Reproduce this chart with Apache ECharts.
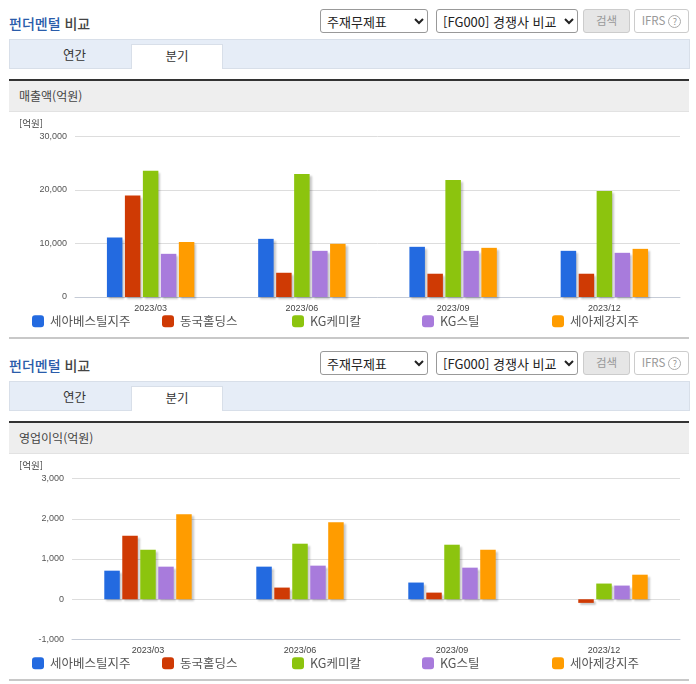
<!DOCTYPE html>
<html lang="ko">
<head>
    <meta charset="UTF-8">
    <title>펀더멘털 비교</title>
    <script src="https://cdn.jsdelivr.net/npm/echarts@6/dist/echarts.min.js"></script>
    <style>
        html, body { margin: 0; padding: 0; background: #fff; }
        body { width: 696px; height: 684px; position: relative; overflow: hidden;
            font-family: "Noto Sans CJK KR", "Liberation Sans", sans-serif; color: #333; }
        .panel { position: absolute; left: 0; width: 696px; height: 342px; }
        .head { position: absolute; left: 9px; top: 12px; font-size: 14px; line-height: 22px; font-weight: 500; color: #444; }
        .head b { color: #2a5caa; font-weight: 500; }
        select { position: absolute; top: 9px; height: 24px; font-size: 13px; padding: 0 0 0 2px; background: #fff;
            border: 1px solid #999; border-radius: 3px; color: #222; font-family: inherit; }
        .btn { position: absolute; top: 9px; height: 22px; line-height: 21px; text-align: center; font-size: 11.5px;
            color: #999; border: 1px solid #ccc; border-radius: 3px; }
        .btn i { display: inline-block; width: 11px; height: 11px; line-height: 11px; border: 1px solid #aaa; border-radius: 50%;
            font-style: normal; font-size: 9px; margin-left: 3px; vertical-align: 0; }
        .tabs { position: absolute; left: 9px; top: 39px; width: 679px; height: 28px; background: #e6edf7; border: 1px solid #d8dfe9; }
        .tab { position: absolute; top: 4px; height: 25px; line-height: 22px; text-align: center; font-size: 12.5px; color: #333; box-sizing: border-box; }
        .tab.on { background: #fff; border: 1px solid #d8dfe9; border-bottom: 0; }
        .band { position: absolute; left: 9px; top: 79px; width: 680px; height: 30px; background: #eee; border-top: 2px solid #333;
            border-bottom: 1px solid #e2e2e2; font-size: 12px; line-height: 30px; text-indent: 10px; color: #444; }
        .rule { position: absolute; left: 9px; top: 337px; width: 680px; height: 2px; background: #c8c8c8; }
        .chart { position: absolute; left: 0; top: 112px; width: 696px; height: 224px; }
    </style>
</head>
<body>
<div id="panels"></div>
<script type="application/javascript">
    const categories = ['2023/03', '2023/06', '2023/09', '2023/12'];
    const companies = ['세아베스틸지주', '동국홀딩스', 'KG케미칼', 'KG스틸', '세아제강지주'];
    const colors = ['#236ae0', '#cf3a04', '#8cc40e', '#a87bdc', '#ff9c00'];
    const legendLefts = [27, 157, 287, 417, 547];

    // 매출액(억원)
    const sales = [
        [11100, 10870, 9380, 8630],
        [18950, 4530, 4350, 4350],
        [23600, 22980, 21860, 19800],
        [8070, 8630, 8630, 8260],
        [10300, 9940, 9190, 9000]
    ];
    // 영업이익(억원)
    const profit = [
        [710, 810, 415, null],
        [1580, 290, 165, -90],
        [1230, 1380, 1355, 390],
        [810, 835, 785, 340],
        [2110, 1910, 1230, 610]
    ];

    function panelHtml(title, chartId, top) {
        return `<div class="panel" style="top:${top}px">
            <div class="head"><b>펀더멘털</b> 비교</div>
            <select style="left:320px;width:108px"><option>주재무제표</option></select>
            <select style="left:436px;width:142px"><option>[FG000] 경쟁사 비교</option></select>
            <div class="btn" style="left:583px;width:45px;background:#e6e6e6">검색</div>
            <div class="btn" style="left:634px;width:53px">IFRS<i>?</i></div>
            <div class="tabs">
                <div class="tab" style="left:0;width:129px">연간</div>
                <div class="tab on" style="left:121px;width:92px">분기</div>
            </div>
            <div class="band">${title}</div>
            <div class="chart" id="${chartId}"></div>
            <div class="rule"></div>
        </div>`;
    }

    document.getElementById('panels').innerHTML =
        panelHtml('매출액(억원)', 'chart1', 0) + panelHtml('영업이익(억원)', 'chart2', 342);

    function drawChart(id, values, min, max, interval, gridLeft, gridHeight) {
        const chart = echarts.init(document.getElementById(id), null, {renderer: 'canvas'});
        const font = '"Liberation Sans", "Noto Sans CJK KR", sans-serif';
        chart.setOption({
            animation: false,
            textStyle: {fontFamily: font},
            legend: companies.map((name, i) => ({
                data: [name],
                left: legendLefts[i],
                top: 198,
                icon: 'roundRect',
                itemWidth: 12,
                itemHeight: 12,
                selectedMode: false,
                textStyle: {fontSize: 12.5, color: '#555', padding: [0, 0, 0, 1], fontFamily: '"Noto Sans CJK KR", sans-serif'}
            })),
            grid: {left: gridLeft, right: 16, top: 24.5, height: gridHeight},
            xAxis: {
                type: 'category',
                data: categories,
                axisLine: {onZero: false, lineStyle: {color: '#c5cbd6'}},
                axisTick: {length: 4, lineStyle: {color: '#c5cbd6'}},
                axisLabel: {fontSize: 9, color: '#444', margin: 7}
            },
            yAxis: {
                type: 'value',
                min: min,
                max: max,
                interval: interval,
                name: '[억원]',
                nameGap: 8,
                nameTextStyle: {fontSize: 9.5, color: '#444', align: 'right', padding: [0, gridLeft - 43, 0, 0],
                    fontFamily: '"Noto Sans CJK KR", sans-serif'},
                axisLine: {show: false},
                axisTick: {show: false},
                axisLabel: {fontSize: 9, color: '#555', margin: 8, padding: [3, 0, 0, 0]},
                splitLine: {lineStyle: {color: '#ddd'}}
            },
            series: companies.map((name, i) => ({
                name: name,
                type: 'bar',
                data: values[i],
                barWidth: 15.5,
                barGap: '16%',
                itemStyle: {
                    color: colors[i],
                    shadowColor: 'rgba(0,0,0,0.22)',
                    shadowBlur: 2,
                    shadowOffsetX: 2,
                    shadowOffsetY: 2
                }
            }))
        });
    }

    drawChart('chart1', sales, 0, 30000, 10000, 75, 160.5);
    drawChart('chart2', profit, -1000, 3000, 1000, 72, 161);
</script>
</body>
</html>
